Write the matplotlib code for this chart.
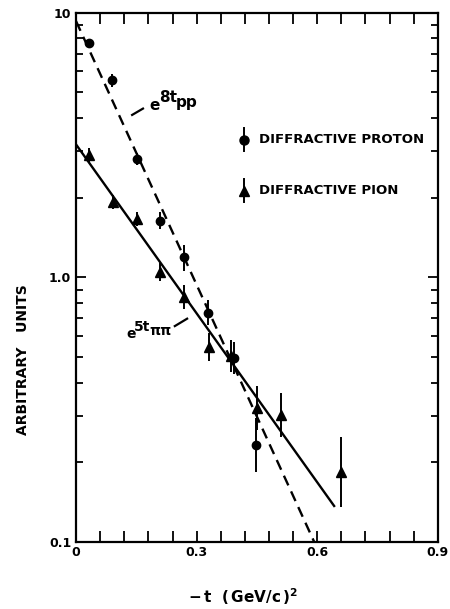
import numpy as np
import matplotlib
matplotlib.use('Agg')
import matplotlib.pyplot as plt
from matplotlib.ticker import FixedLocator, NullFormatter, LogLocator

plt.rcParams['font.family'] = ['DejaVu Sans']
plt.rcParams['font.weight'] = 'bold'
plt.rcParams['mathtext.fontset'] = 'dejavusans'
plt.rcParams['mathtext.default'] = 'bf'

# diffractive proton points, -t in (GeV/c)^2
tProton = [0.031, 0.089, 0.151, 0.209, 0.269, 0.327, 0.394, 0.447]
yProton = [7.68, 5.55, 2.80, 1.64, 1.19, 0.736, 0.495, 0.233]
errProtonLo = [0.14, 0.30, 0.15, 0.12, 0.13, 0.076, 0.064, 0.049]
errProtonHi = [0.14, 0.32, 0.16, 0.13, 0.14, 0.085, 0.074, 0.062]

# diffractive pion points
tPion = [0.033, 0.091, 0.151, 0.209, 0.269, 0.331, 0.385, 0.449, 0.511, 0.659]
yPion = [2.90, 1.93, 1.66, 1.05, 0.846, 0.547, 0.505, 0.320, 0.302, 0.184]
errPionLo = [0.17, 0.11, 0.10, 0.078, 0.084, 0.063, 0.066, 0.056, 0.053, 0.048]
errPionHi = [0.18, 0.12, 0.10, 0.085, 0.094, 0.071, 0.075, 0.068, 0.064, 0.066]

# exponential fits  A * exp(-b * |t|)
ppA, ppB, ppEnd = 9.3, 7.65, 0.62
pipiA, pipiB, pipiEnd = 3.18, 4.9, 0.642

xTicks = [0, 0.3, 0.6, 0.9]
xTickLabels = ['0', '0.3', '0.6', '0.9']
yTicks = [0.1, 1.0, 10]
yTickLabels = ['0.1', '1.0', '10']

fig = plt.figure(figsize = (4.5, 6.09), dpi = 100)
ax = fig.add_axes([0.169, 0.110, 0.804, 0.869])
ax.set_yscale('log')
ax.set_xlim(0, 0.9)
ax.set_ylim(0.1, 10)

tt = np.linspace(0, ppEnd, 100)
ax.plot(tt, ppA * np.exp(-ppB * tt), color = 'black', lw = 1.7, dashes = (4.5, 2.8))
tt = np.linspace(0, pipiEnd, 100)
ax.plot(tt, pipiA * np.exp(-pipiB * tt), color = 'black', lw = 1.7)

ax.errorbar(tProton, yProton, yerr = [errProtonLo, errProtonHi], fmt = 'o', ms = 6,
            color = 'black', elinewidth = 1.4, capsize = 0)
ax.errorbar(tPion, yPion, yerr = [errPionLo, errPionHi], fmt = '^', ms = 7,
            color = 'black', elinewidth = 1.4, capsize = 0)

# legend drawn by hand
for yy, mk, label in [(0.760, 'o', 'DIFFRACTIVE PROTON'), (0.664, '^', 'DIFFRACTIVE PION')]:
    ax.plot([0.465, 0.465], [yy - 0.022, yy + 0.022], color = 'black', lw = 1.4, transform = ax.transAxes)
    ax.plot([0.465], [yy], marker = mk, ms = 6.5, color = 'black', transform = ax.transAxes)
    ax.text(0.505, yy, label, transform = ax.transAxes, fontsize = 9.5, fontweight = 'bold', va = 'center')

# fit labels, pieced together so the exponent stays large
def fitLabel(x0, y0, base, power, sub, size):
    k = size / 11.0
    ax.text(x0, y0, base, transform = ax.transAxes, fontsize = size, va = 'center')
    ax.text(x0 + 0.025 * k, y0 + 0.015 * k, power, transform = ax.transAxes,
            fontsize = size, va = 'center')
    ax.text(x0 + 0.072 * k, y0 + 0.007 * k, sub, transform = ax.transAxes,
            fontsize = size, va = 'center')

fitLabel(0.204, 0.824, 'e', '8t', 'pp', 11)
ax.plot([0.155, 0.185], [0.807, 0.819], color = 'black', lw = 1.6, transform = ax.transAxes)
fitLabel(0.138, 0.393, 'e', '5t', '\u03c0\u03c0', 10)
ax.plot([0.273, 0.307], [0.408, 0.422], color = 'black', lw = 1.6, transform = ax.transAxes)

ax.xaxis.set_major_locator(FixedLocator(xTicks))
ax.xaxis.set_minor_locator(FixedLocator(np.arange(0, 0.91, 0.06)))
ax.set_xticklabels(xTickLabels)
ax.yaxis.set_major_locator(FixedLocator(yTicks))
ax.yaxis.set_minor_locator(LogLocator(base = 10, subs = np.arange(2, 10)))
ax.yaxis.set_minor_formatter(NullFormatter())
ax.set_yticklabels(yTickLabels)

ax.tick_params(which = 'both', direction = 'in', top = True, right = True, width = 1.3, labelsize = 9)
ax.tick_params(axis = 'x', which = 'both', length = 8, pad = 3)
ax.tick_params(axis = 'y', which = 'major', length = 7)
ax.tick_params(axis = 'y', which = 'minor', length = 5)
for lab in ax.get_xticklabels() + ax.get_yticklabels():
    lab.set_fontweight('bold')
for sp in ax.spines.values():
    sp.set_linewidth(1.6)

fig.text(0.54, 0.02, r'$-\,t\ \ (\,GeV/c\,)^2$', fontsize = 11, ha = 'center', va = 'center')
fig.text(0.051, 0.41, 'ARBITRARY   UNITS', rotation = 90, fontsize = 10, fontweight = 'bold',
         ha = 'center', va = 'center')

fig.savefig('out.png', dpi = 100)
